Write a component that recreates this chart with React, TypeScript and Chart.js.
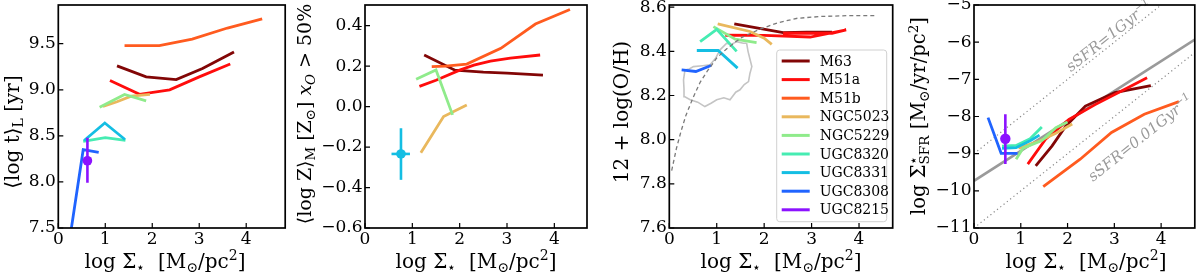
import React, { useEffect, useRef } from "react";
import { Chart, registerables } from "chart.js";
Chart.register(...registerables);

const FONT = '"DejaVu Serif", "Liberation Serif", serif';

// ---------------- data ----------------
const galaxyNames = ["M63", "M51a", "M51b", "NGC5023", "NGC5229", "UGC8320", "UGC8331", "UGC8308", "UGC8215"];
const galaxyColors = ["#820606", "#ff0c0c", "#ff5b1f", "#e9b85d", "#8feb8b", "#46ecb2", "#14bee3", "#2064ff", "#8c12ff"];

const xTicks = [0, 1, 2, 3, 4];

// panel 1: light-weighted age
const ageTicks = [7.5, 8.0, 8.5, 9.0, 9.5];
const ageM63 = [[1.25, 9.26], [1.87, 9.14], [2.51, 9.11], [3.07, 9.23], [3.74, 9.41]];
const ageM51a = [[1.1, 9.1], [1.73, 8.95], [2.37, 9.0], [3.0, 9.14], [3.66, 9.28]];
const ageM51b = [[1.41, 9.48], [2.15, 9.48], [2.85, 9.55], [3.6, 9.67], [4.34, 9.77]];
const ageNGC5023 = [[0.95, 8.82], [1.25, 8.87], [1.55, 8.93], [1.95, 8.95]];
const ageNGC5229 = [[0.88, 8.81], [1.41, 8.95], [1.87, 8.88]];
const ageUGC8320 = [[0.53, 8.44], [1.0, 8.48], [1.43, 8.45]];
const ageUGC8331 = [[0.55, 8.45], [0.99, 8.64], [1.42, 8.46]];
const ageUGC8308 = [[0.22, 7.3], [0.53, 8.35], [0.86, 8.32]];
const ageUGC8215 = [0.62, 8.23];
const ageUGC8215Err = [7.99, 8.48];

// panel 2: mass-weighted metallicity
const zTicks = [-0.6, -0.4, -0.2, 0.0, 0.2, 0.4];
const zM63 = [[1.25, 0.255], [1.9, 0.18], [2.5, 0.17], [3.0, 0.165], [3.76, 0.155]];
const zM51a = [[1.15, 0.1], [1.5, 0.13], [2.0, 0.18], [2.3, 0.205], [2.65, 0.225], [3.07, 0.24], [3.7, 0.255]];
const zM51b = [[1.41, 0.197], [1.7, 0.2], [2.15, 0.21], [2.87, 0.288], [3.6, 0.408], [4.33, 0.48]];
const zNGC5023 = [[1.18, -0.228], [1.66, -0.049], [2.15, 0.008]];
const zNGC5229 = [[1.08, 0.135], [1.5, 0.181], [1.85, -0.041]];
const zUGC8331 = [0.76, -0.234];
const zUGC8331ErrY = [-0.362, -0.107];
const zUGC8331ErrX = [0.56, 0.95];

// panel 3: gas-phase oxygen abundance
const ohTicks = [7.6, 7.8, 8.0, 8.2, 8.4, 8.6];
const ohM63 = [[1.37, 8.525], [2.4, 8.485], [2.9, 8.487], [3.43, 8.487]];
const ohM51a = [[1.18, 8.473], [2.0, 8.472], [2.97, 8.465], [3.73, 8.497], [3.43, 8.482], [2.4, 8.482]];
const ohNGC5023 = [[1.02, 8.525], [1.7, 8.49], [2.0, 8.46], [2.16, 8.432]];
const ohNGC5229 = [[0.93, 8.512], [1.39, 8.455], [1.84, 8.44]];
const ohUGC8320 = [[0.65, 8.444], [1.0, 8.5], [1.42, 8.4]];
const ohUGC8331 = [[0.58, 8.404], [1.03, 8.404], [1.44, 8.324]];
const ohUGC8308 = [[0.26, 8.316], [0.56, 8.309], [0.88, 8.336]];
const ohModel = [[0.05, 7.86], [0.15, 7.96], [0.25, 8.04], [0.35, 8.11], [0.5, 8.19], [0.65, 8.26], [0.8, 8.31], [1.0, 8.37], [1.2, 8.41], [1.5, 8.46], [1.9, 8.5], [2.3, 8.53], [2.7, 8.55], [3.2, 8.558], [3.8, 8.562], [4.38, 8.562]];
const ohContour = [[1.63, 8.437], [1.66, 8.4], [1.74, 8.331], [1.7, 8.3], [1.67, 8.263], [1.58, 8.25], [1.49, 8.226], [1.4, 8.215], [1.28, 8.181], [1.15, 8.19], [1.0, 8.181], [0.88, 8.165], [0.75, 8.15], [0.6, 8.17], [0.44, 8.181], [0.32, 8.195], [0.31, 8.23], [0.3, 8.271], [0.33, 8.316], [0.42, 8.32], [0.51, 8.331], [0.7, 8.335], [0.86, 8.339], [0.98, 8.37], [1.07, 8.407], [1.21, 8.437], [1.3, 8.43], [1.42, 8.444], [1.56, 8.437], [1.63, 8.437]];

// panel 4: star-formation rate surface density
const sfrTicks = [-11, -10, -9, -8, -7, -6, -5];
const sfrM63 = [[1.32, -9.33], [1.67, -8.79], [1.96, -8.26], [2.38, -7.72], [3.01, -7.36], [3.78, -7.17]];
const sfrM51a = [[1.15, -9.28], [1.53, -8.61], [2.03, -8.08], [2.59, -7.68], [3.08, -7.36], [3.7, -6.96]];
const sfrM51b = [[1.48, -9.89], [2.27, -9.15], [2.94, -8.43], [3.64, -7.94], [4.38, -7.6]];
const sfrNGC5023 = [[0.95, -8.85], [1.4, -8.66], [1.75, -8.45], [2.1, -8.2]];
const sfrNGC5229 = [[0.9, -9.15], [1.05, -8.85], [1.45, -8.65], [1.75, -8.3], [2.0, -8.15]];
const sfrUGC8320 = [[0.6, -8.8], [0.9, -8.78], [1.2, -8.6], [1.45, -8.28]];
const sfrUGC8331 = [[0.6, -8.86], [0.9, -8.84], [1.2, -8.65], [1.4, -8.5]];
const sfrUGC8308 = [[0.3, -8.03], [0.58, -8.99], [0.93, -8.99]];
const sfrUGC8215 = [0.67, -8.6];
const sfrUGC8215Err = [-9.28, -7.94];
const sfrFit = [[0, -9.73], [4.72, -5.93]];
const sfrHigh = [[0, -9], [4.72, -4.28]];
const sfrLow = [[0, -11], [4.72, -6.28]];
const sfrLabelHigh = [2.95, -5.8];
const sfrLabelLow = [3.62, -8.55];

// ---------------- helpers ----------------
type Part = { t: string; k?: "sub" | "sup"; it?: boolean; st?: boolean };

function drawRich(ctx: CanvasRenderingContext2D, parts: Part[], x: number, y: number, rot: number, size: number, color: string) {
  ctx.save();
  ctx.translate(x, y);
  ctx.rotate(rot);
  ctx.fillStyle = color;
  ctx.textBaseline = "alphabetic";
  ctx.textAlign = "left";
  const items: { p: Part; s: number; start: number }[] = [];
  let cur = 0;
  let prevStart = 0;
  for (const p of parts) {
    const s = p.k ? size * 0.7 : size;
    ctx.font = `${p.it ? "italic " : ""}${s}px ${FONT}`;
    const w = ctx.measureText(p.t).width;
    let start: number;
    if (p.st) {
      start = prevStart;
      cur = Math.max(cur, start + w);
    } else {
      start = cur;
      cur += w;
    }
    items.push({ p, s, start });
    prevStart = start;
  }
  const total = cur;
  for (const it of items) {
    ctx.font = `${it.p.it ? "italic " : ""}${it.s}px ${FONT}`;
    const dy = it.p.k === "sub" ? size * 0.22 : it.p.k === "sup" ? -size * 0.38 : 0;
    ctx.fillText(it.p.t, it.start - total / 2, dy);
  }
  ctx.restore();
}

const lineDs = (pts: number[][], color: string, width = 2.8, extra: any = {}) => ({
  data: pts.map(([x, y]) => ({ x, y })),
  showLine: true,
  borderColor: color,
  backgroundColor: color,
  borderWidth: width,
  pointRadius: 0,
  fill: false,
  tension: 0,
  ...extra,
});
const markerDs = (pt: number[], color: string, r = 4.8) => ({
  data: [{ x: pt[0], y: pt[1] }],
  showLine: false,
  pointRadius: r,
  pointBorderWidth: 0,
  backgroundColor: color,
  borderColor: color,
});
const col = (name: string) => galaxyColors[galaxyNames.indexOf(name)];
const fmt1 = (v: number) => (v < 0 ? "\u2212" : "") + Math.abs(v).toFixed(1);
const fmt0 = (v: number) => (v < 0 ? "\u2212" : "") + Math.abs(v).toFixed(0);

const TITLE = 20;
const xTitle: Part[] = [
  { t: "log \u03A3" }, { t: "\u22C6", k: "sub" }, { t: "  [M" }, { t: "\u2299", k: "sub" }, { t: "/pc" }, { t: "2", k: "sup" }, { t: "]" },
];

const TOPOFF = 20;
const CH = 277 + TOPOFF;

interface Panel {
  left: number;
  width: number;
  area: number[]; // page left, top, right, bottom
  xMax: number;
  yMin: number;
  yMax: number;
  yTicks: number[];
  yFmt: (v: number) => string;
  datasets: any[];
  yTitle: Part[];
  yTitlePos: number[];
  yTitleSize: number;
  xTitlePos: number[];
  extra?: (chart: any, toC: (x: number, y: number) => number[]) => void;
}

const panels: Panel[] = [
  {
    left: 0, width: 290, area: [58.3, 5, 287, 228], xMax: 4.83, yMin: 7.5, yMax: 9.92, yTicks: ageTicks, yFmt: fmt1,
    datasets: [
      lineDs(ageM63, col("M63")), lineDs(ageM51a, col("M51a")), lineDs(ageM51b, col("M51b")),
      lineDs(ageNGC5023, col("NGC5023")), lineDs(ageNGC5229, col("NGC5229")), lineDs(ageUGC8320, col("UGC8320")),
      lineDs(ageUGC8331, col("UGC8331")), lineDs(ageUGC8308, col("UGC8308")),
      lineDs([[ageUGC8215[0], ageUGC8215Err[0]], [ageUGC8215[0], ageUGC8215Err[1]]], col("UGC8215"), 2.6),
      markerDs(ageUGC8215, col("UGC8215")),
    ],
    yTitle: [{ t: "\u27E8log t\u27E9" }, { t: "L", k: "sub" }, { t: " [yr]" }],
    yTitlePos: [19, 132], yTitleSize: 20, xTitlePos: [165, 268],
  },
  {
    left: 290, width: 310, area: [365, 5, 587, 228], xMax: 4.69, yMin: -0.6, yMax: 0.502, yTicks: zTicks, yFmt: fmt1,
    datasets: [
      lineDs(zM63, col("M63")), lineDs(zM51a, col("M51a")), lineDs(zM51b, col("M51b")),
      lineDs(zNGC5023, col("NGC5023")), lineDs(zNGC5229, col("NGC5229")),
      lineDs([[zUGC8331[0], zUGC8331ErrY[0]], [zUGC8331[0], zUGC8331ErrY[1]]], col("UGC8331"), 2.6),
      lineDs([[zUGC8331ErrX[0], zUGC8331[1]], [zUGC8331ErrX[1], zUGC8331[1]]], col("UGC8331"), 2.6),
      markerDs(zUGC8331, col("UGC8331")),
    ],
    yTitle: [{ t: "\u27E8log Z\u27E9" }, { t: "M", k: "sub" }, { t: " [Z" }, { t: "\u2299", k: "sub" }, { t: "] " }, { t: "x", it: true }, { t: "O", k: "sub", it: true }, { t: " > 50%" }],
    yTitlePos: [311, 114], yTitleSize: 19, xTitlePos: [476, 268],
  },
  {
    left: 600, width: 305, area: [669.3, 5, 892.7, 228], xMax: 4.71, yMin: 7.6, yMax: 8.61, yTicks: ohTicks, yFmt: fmt1,
    datasets: [
      lineDs(ohContour, "#c4c4c4", 1.6),
      lineDs(ohM63, col("M63")), lineDs(ohM51a, col("M51a")),
      lineDs(ohNGC5023, col("NGC5023")), lineDs(ohNGC5229, col("NGC5229")), lineDs(ohUGC8320, col("UGC8320")),
      lineDs(ohUGC8331, col("UGC8331")), lineDs(ohUGC8308, col("UGC8308")),
      lineDs(ohModel, "#7a7a7a", 1.3, { borderDash: [4, 3] }),
    ],
    yTitle: [{ t: "12 + log(O/H)" }],
    yTitlePos: [628, 112], yTitleSize: 20, xTitlePos: [781, 268],
    extra: (chart, toC) => {
      const ctx: CanvasRenderingContext2D = chart.ctx;
      const [bx, by] = toC(776.7, 50);
      const bw = 110, bh = 171.7;
      ctx.save();
      ctx.fillStyle = "rgba(255,255,255,0.85)";
      ctx.strokeStyle = "#d0d0d0";
      ctx.lineWidth = 1;
      ctx.beginPath();
      (ctx as any).roundRect(bx, by, bw, bh, 3);
      ctx.fill();
      ctx.stroke();
      ctx.font = `14px ${FONT}`;
      ctx.textBaseline = "middle";
      ctx.textAlign = "left";
      galaxyNames.forEach((n, i) => {
        const y = by + 11 + i * 18.6;
        ctx.strokeStyle = galaxyColors[i];
        ctx.lineWidth = 3;
        ctx.beginPath();
        ctx.moveTo(bx + 5, y);
        ctx.lineTo(bx + 33, y);
        ctx.stroke();
        ctx.fillStyle = "#000";
        ctx.fillText(n, bx + 43, y + 1);
      });
      ctx.restore();
    },
  },
  {
    left: 905, width: 295, area: [974, 5, 1197.7, 228], xMax: 4.72, yMin: -11, yMax: -5, yTicks: sfrTicks, yFmt: fmt0,
    datasets: [
      lineDs(sfrHigh, "#888888", 1.2, { borderDash: [1.2, 3] }),
      lineDs(sfrLow, "#888888", 1.2, { borderDash: [1.2, 3] }),
      lineDs(sfrFit, "#9a9a9a", 2.6),
      lineDs(sfrM63, col("M63")), lineDs(sfrM51a, col("M51a")), lineDs(sfrM51b, col("M51b")),
      lineDs(sfrNGC5023, col("NGC5023")), lineDs(sfrNGC5229, col("NGC5229")), lineDs(sfrUGC8320, col("UGC8320")),
      lineDs(sfrUGC8331, col("UGC8331")), lineDs(sfrUGC8308, col("UGC8308")),
      lineDs([[sfrUGC8215[0], sfrUGC8215Err[0]], [sfrUGC8215[0], sfrUGC8215Err[1]]], col("UGC8215"), 2.6),
      markerDs(sfrUGC8215, col("UGC8215"), 5.2),
    ],
    yTitle: [{ t: "log \u03A3" }, { t: "\u22C6", k: "sup" }, { t: "SFR", k: "sub", st: true }, { t: " [M" }, { t: "\u2299", k: "sub" }, { t: "/yr/pc" }, { t: "2", k: "sup" }, { t: "]" }],
    yTitlePos: [925, 116], yTitleSize: 19.5, xTitlePos: [1086, 268],
    extra: (chart) => {
      const ctx: CanvasRenderingContext2D = chart.ctx;
      const xs = chart.scales.x, ys = chart.scales.y;
      const ang = Math.atan2(ys.getPixelForValue(-8) - ys.getPixelForValue(-9), xs.getPixelForValue(1) - xs.getPixelForValue(0));
      const lab1: Part[] = [{ t: "sSFR=1Gyr", it: true }, { t: "\u22121", k: "sup", it: true }];
      const lab2: Part[] = [{ t: "sSFR=0.01Gyr", it: true }, { t: "\u22121", k: "sup", it: true }];
      drawRich(ctx, lab1, xs.getPixelForValue(sfrLabelHigh[0]), ys.getPixelForValue(sfrLabelHigh[1]) + 5, ang, 15, "#9a9a9a");
      drawRich(ctx, lab2, xs.getPixelForValue(sfrLabelLow[0]), ys.getPixelForValue(sfrLabelLow[1]) + 5, ang, 15, "#9a9a9a");
    },
  },
];

function makeChart(canvas: HTMLCanvasElement, p: Panel) {
  const toC = (x: number, y: number) => [x - p.left, y + TOPOFF];
  const plugin = {
    id: "decor",
    afterDatasetsDraw(chart: any) {
      if (p.extra) p.extra(chart, toC);
    },
    afterDraw(chart: any) {
      const ctx: CanvasRenderingContext2D = chart.ctx;
      const a = chart.chartArea;
      const xs = chart.scales.x, ys = chart.scales.y;
      ctx.save();
      ctx.strokeStyle = "#000";
      ctx.lineWidth = 1.2;
      ctx.beginPath();
      for (const t of xs.ticks) {
        const px = xs.getPixelForValue(t.value);
        ctx.moveTo(px, a.bottom);
        ctx.lineTo(px, a.bottom - 5);
      }
      for (const t of ys.ticks) {
        const py = ys.getPixelForValue(t.value);
        ctx.moveTo(a.left, py);
        ctx.lineTo(a.left + 5, py);
      }
      ctx.stroke();
      ctx.lineWidth = 1.7;
      ctx.strokeRect(a.left, a.top, a.right - a.left, a.bottom - a.top);
      ctx.restore();
      const [tx, ty] = toC(p.xTitlePos[0], p.xTitlePos[1]);
      drawRich(ctx, xTitle, tx, ty, 0, TITLE, "#000");
      const [yx, yy] = toC(p.yTitlePos[0], p.yTitlePos[1]);
      drawRich(ctx, p.yTitle, yx, yy, -Math.PI / 2, p.yTitleSize, "#000");
    },
  };
  const ordered = [...p.datasets].reverse();
  return new Chart(canvas, {
    type: "scatter",
    data: { datasets: ordered },
    options: {
      responsive: false,
      animation: false,
      devicePixelRatio: 1,
      events: [],
      layout: { padding: { left: 0, right: p.left + p.width - p.area[2], top: p.area[1] + TOPOFF, bottom: 0 } },
      plugins: { legend: { display: false }, tooltip: { enabled: false } },
      scales: {
        x: {
          type: "linear", min: 0, max: p.xMax,
          grid: { display: false, drawTicks: false }, border: { display: false },
          ticks: { padding: 1, color: "#000", font: { family: FONT, size: 17 }, autoSkip: false, maxRotation: 0, callback: (v: any) => fmt0(Number(v)) },
          afterBuildTicks: (s: any) => { s.ticks = xTicks.map((v) => ({ value: v })); },
          afterFit: (s: any) => { s.height = CH - (p.area[3] + TOPOFF); },
        },
        y: {
          type: "linear", min: p.yMin, max: p.yMax,
          grid: { display: false, drawTicks: false }, border: { display: false },
          ticks: { padding: 2.5, color: "#000", font: { family: FONT, size: 17 }, autoSkip: false, callback: (v: any) => p.yFmt(Number(v)) },
          afterBuildTicks: (s: any) => { s.ticks = p.yTicks.map((v) => ({ value: v })); },
          afterFit: (s: any) => { s.width = p.area[0] - p.left; },
        },
      },
    } as any,
    plugins: [plugin],
  });
}

export default function App() {
  const refs = useRef<(HTMLCanvasElement | null)[]>([]);
  useEffect(() => {
    const charts = panels.map((p, i) => makeChart(refs.current[i] as HTMLCanvasElement, p));
    return () => charts.forEach((c) => c.destroy());
  }, []);
  return (
    <div style={{ position: "fixed", left: 0, top: 0, width: 1200, height: 277, overflow: "hidden", background: "#fff" }}>
      {panels.map((p, i) => (
        <canvas
          key={i}
          ref={(el) => { refs.current[i] = el; }}
          width={p.width}
          height={CH}
          style={{ position: "absolute", left: p.left, top: -TOPOFF, width: p.width, height: CH }}
        />
      ))}
    </div>
  );
}
